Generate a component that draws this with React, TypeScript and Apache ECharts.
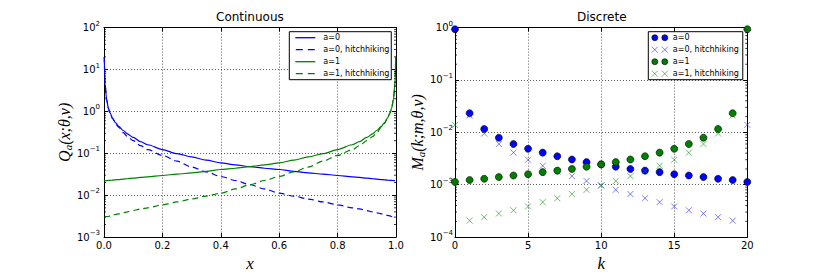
import React, { useEffect, useRef } from 'react';
import * as echarts from 'echarts';

// ---------- Continuous panel data ----------
const contX = [0.001, 0.0034, 0.009, 0.015, 0.02, 0.03, 0.04, 0.05, 0.066, 0.08, 0.1, 0.125, 0.15, 0.2, 0.25, 0.3, 0.35, 0.4, 0.45, 0.5, 0.55, 0.6, 0.65, 0.7, 0.75, 0.8, 0.85, 0.875, 0.9, 0.92, 0.934, 0.95, 0.96, 0.97, 0.98, 0.985, 0.991, 0.9966, 0.999];
const contA0 = [20, 4.6, 1.9, 1.2, 0.93, 0.68, 0.53, 0.44, 0.35, 0.29, 0.24, 0.19, 0.16, 0.123, 0.098, 0.082, 0.069, 0.059, 0.053, 0.048, 0.044, 0.041, 0.037, 0.034, 0.032, 0.0295, 0.0275, 0.0265, 0.0255, 0.0247, 0.0242, 0.0236, 0.0233, 0.0229, 0.0226, 0.0225, 0.0223, 0.0221, 0.022];
const contA0Hitch = [20, 4.6, 1.9, 1.18, 0.91, 0.66, 0.51, 0.42, 0.31, 0.25, 0.2, 0.152, 0.122, 0.089, 0.065, 0.047, 0.036, 0.028, 0.0224, 0.0178, 0.0141, 0.0112, 0.0095, 0.0081, 0.0069, 0.0059, 0.005, 0.0047, 0.0043, 0.004, 0.0038, 0.0036, 0.0035, 0.0033, 0.0032, 0.0031, 0.0031, 0.003, 0.003];
const contA1 = [0.022, 0.0221, 0.0223, 0.0225, 0.0226, 0.0229, 0.0233, 0.0236, 0.0242, 0.0247, 0.0255, 0.0265, 0.0275, 0.0295, 0.032, 0.034, 0.037, 0.041, 0.044, 0.048, 0.053, 0.059, 0.069, 0.082, 0.098, 0.123, 0.16, 0.19, 0.24, 0.29, 0.35, 0.44, 0.53, 0.68, 0.93, 1.2, 1.9, 4.6, 20];
const contA1Hitch = [0.003, 0.003, 0.0031, 0.0031, 0.0032, 0.0033, 0.0035, 0.0036, 0.0038, 0.004, 0.0043, 0.0047, 0.005, 0.0059, 0.0069, 0.0081, 0.0095, 0.0112, 0.0141, 0.0178, 0.0224, 0.028, 0.036, 0.047, 0.065, 0.089, 0.122, 0.152, 0.2, 0.25, 0.31, 0.42, 0.51, 0.66, 0.91, 1.18, 1.9, 4.6, 20];

// ---------- Discrete panel data ----------
const discK = [0, 1, 2, 3, 4, 5, 6, 7, 8, 9, 10, 11, 12, 13, 14, 15, 16, 17, 18, 19, 20];
const discA0 = [0.93, 0.0232, 0.0116, 0.0079, 0.006, 0.00486, 0.0041, 0.0035, 0.00303, 0.0027, 0.00244, 0.00221, 0.002, 0.00186, 0.00174, 0.00159, 0.0015, 0.0014, 0.0013, 0.00123, 0.00113];
const discA0Hitch = [null, 0.021, 0.0095, 0.006, 0.0041, 0.003, 0.0023, 0.00179, 0.00146, 0.00118, 0.00097, 0.0008, 0.000665, 0.000552, 0.000465, 0.000385, 0.000325, 0.000282, 0.00024, 0.000206, 0.0139];
const discA1 = [0.00113, 0.00123, 0.0013, 0.0014, 0.0015, 0.00159, 0.00174, 0.00186, 0.002, 0.00221, 0.00244, 0.0027, 0.00303, 0.0035, 0.0041, 0.00486, 0.006, 0.0079, 0.0116, 0.0232, 0.93];
const discA1Hitch = [0.0139, 0.000206, 0.00024, 0.000282, 0.000325, 0.000385, 0.000465, 0.000552, 0.000665, 0.0008, 0.00097, 0.00118, 0.00146, 0.00179, 0.0023, 0.003, 0.0041, 0.006, 0.0095, 0.021, null];

// ---------- Texts ----------
const titles = ['Continuous', 'Discrete'];
const seriesNames = ['a=0', 'a=0, hitchhiking', 'a=1', 'a=1, hitchhiking'];
const discPrefix = 'D:';

// axis ranges
const contXRange = [0, 1];
const contYRange = [1e-3, 100];
const discXRange = [0, 20];
const discYRange = [1e-4, 1];
const minorMultipliers = [2, 3, 4, 5, 6, 7, 8, 9];

const BLUE = '#0000ff';
const GREEN = '#008000';
const BLUE_X = 'rgba(40,40,255,0.6)';
const GREEN_X = 'rgba(20,140,20,0.6)';

const SANS = 'DejaVu Sans';
const SERIF = 'Liberation Serif';

const supFmt = (v: number) => {
  const e = Math.round(Math.log10(v));
  return `{b|10}{s|${e < 0 ? '\u2212' + -e : e}}`;
};

const minorVals = (lo: number, hi: number) => {
  const out: number[] = [];
  for (let d = Math.round(Math.log10(lo)); d < Math.round(Math.log10(hi)); d++) {
    minorMultipliers.forEach((m) => out.push(m * Math.pow(10, d)));
  }
  return out;
};

const SOLID_ICON = 'path://M0,0H20V1.3H0Z';
const DASH_ICON = 'path://M0,0H7V1.3H0ZM12,0H19V1.3H12Z';
const CIRCLES_ICON = 'path://M0,3A3,3,0,1,1,6,3A3,3,0,1,1,0,3ZM10,3A3,3,0,1,1,16,3A3,3,0,1,1,10,3Z';
const CROSSES_ICON = 'path://M0,0L6,6M6,0L0,6M10,0L16,6M16,0L10,6';
const CROSS_SYMBOL = 'path://M0,0L10,10M10,0L0,10';

export default function App() {
  const ref = useRef<HTMLDivElement>(null);
  useEffect(() => {
    if (!ref.current) return;
    const chart = echarts.init(ref.current, undefined, { renderer: 'svg' });

    const grids = [
      { left: 104, top: 27.6, width: 292, height: 214.7 },
      { left: 455, top: 27.6, width: 292.3, height: 214.7 },
    ];

    const tickStyle = { inside: true, length: 4, lineStyle: { color: '#000', width: 1 } };
    const lineAxis = { show: true, onZero: false, lineStyle: { color: '#000', width: 1 } };
    const gridLine = { show: true, lineStyle: { color: '#333', width: 0.8, type: [1, 2] } };
    const labelRich = {
      b: { fontFamily: SANS, fontSize: 10, color: '#000' },
      s: { fontFamily: SANS, fontSize: 7, color: '#000', padding: [0, 0, 8, 0] },
    };
    const nameRich = {
      i: { fontFamily: SERIF, fontStyle: 'italic', fontSize: 16, color: '#000' },
      s: { fontFamily: SERIF, fontStyle: 'italic', fontSize: 11, color: '#000', padding: [7, 0, 0, 0] },
    };

    const xAxes: any[] = [];
    const yAxes: any[] = [];
    [
      { gi: 0, xr: contXRange, yr: contYRange, interval: 0.2, fmt: (v: number) => v.toFixed(1), xname: 'x', yname: '{i|Q}{s|a}{i|(x;θ,ν)}', yGap: 24, ylm: 4 },
      { gi: 1, xr: discXRange, yr: discYRange, interval: 5, fmt: (v: number) => String(v), xname: 'k', yname: '{i|M}{s|a}{i|(k;m,θ,ν)}', yGap: 28, ylm: 2 },
    ].forEach((p) => {
      xAxes.push({
        gridIndex: p.gi, type: 'value', position: 'bottom', min: p.xr[0], max: p.xr[1], interval: p.interval,
        axisLine: lineAxis, axisTick: tickStyle, splitLine: gridLine,
        axisLabel: { formatter: p.fmt, color: '#000', fontFamily: SANS, fontSize: 10, margin: 3 },
        name: p.xname, nameLocation: 'middle', nameGap: 13,
        nameTextStyle: { fontFamily: SERIF, fontStyle: 'italic', fontSize: 17, color: '#000' },
      });
      xAxes.push({
        gridIndex: p.gi, type: 'value', position: 'top', min: p.xr[0], max: p.xr[1], interval: p.interval,
        axisLine: lineAxis, axisTick: tickStyle, splitLine: { show: false }, axisLabel: { show: false },
      });
      yAxes.push({
        gridIndex: p.gi, type: 'log', logBase: 10, position: 'left', min: p.yr[0], max: p.yr[1],
        axisLine: lineAxis, axisTick: tickStyle, splitLine: gridLine,
        axisLabel: { formatter: supFmt, rich: labelRich, margin: p.ylm },
        name: p.yname, nameLocation: 'middle', nameGap: p.yGap, nameRotate: 90,
        nameTextStyle: { rich: nameRich },
      });
      yAxes.push({
        gridIndex: p.gi, type: 'log', logBase: 10, position: 'right', min: p.yr[0], max: p.yr[1],
        axisLine: lineAxis, axisTick: tickStyle, splitLine: { show: false }, axisLabel: { show: false },
      });
    });

    const lineSeries = (name: string, ys: number[], color: string, dashed: boolean) => ({
      name, type: 'line', xAxisIndex: 0, yAxisIndex: 0, symbol: 'none', showSymbol: false, smooth: 0.3, smoothMonotone: 'x',
      clip: true, z: 3,
      lineStyle: { color, width: 1.2, type: dashed ? [6, 4] : 'solid' },
      itemStyle: { color },
      data: contX.map((x, i) => [x, ys[i]]),
    });

    const toPairs = (vals: (number | null)[]) =>
      discK.map((k, i) => [k, vals[i]]).filter((d) => d[1] !== null);

    const circleSeries = (name: string, vals: (number | null)[], color: string) => ({
      name: discPrefix + name, type: 'scatter', xAxisIndex: 2, yAxisIndex: 2, symbol: 'circle', symbolSize: 7, z: 3,
      itemStyle: { color, borderColor: '#000', borderWidth: 0.6, opacity: 1 },
      data: toPairs(vals),
    });
    const crossSeries = (name: string, vals: (number | null)[], color: string) => ({
      name: discPrefix + name, type: 'scatter', xAxisIndex: 2, yAxisIndex: 2, symbol: CROSS_SYMBOL, symbolSize: 6, z: 3,
      itemStyle: { color: 'rgba(0,0,0,0)', borderColor: color, borderWidth: 1, opacity: 1 },
      data: toPairs(vals),
    });

    const minorSeries = (xi: number, yi: number, xr: number[], yr: number[]) => ({
      type: 'custom', xAxisIndex: xi, yAxisIndex: yi, silent: true, z: 4,
      data: minorVals(yr[0], yr[1]).map((v) => [xr[0], v]),
      renderItem: (params: any, api: any) => {
        const v = api.value(1);
        const p = api.coord([xr[0], v]);
        const q = api.coord([xr[1], v]);
        return {
          type: 'group',
          children: [
            { type: 'line', shape: { x1: p[0], y1: p[1], x2: p[0] + 2, y2: p[1] }, style: { stroke: '#000', lineWidth: 0.8 } },
            { type: 'line', shape: { x1: q[0] - 2, y1: q[1], x2: q[0], y2: q[1] }, style: { stroke: '#000', lineWidth: 0.8 } },
          ],
        };
      },
    });

    const legendCommon = {
      orient: 'vertical', top: 31.7, itemGap: 0, borderColor: '#000', borderWidth: 1, borderRadius: 0,
      backgroundColor: '#fff', selectedMode: false, z: 20,
    };

    chart.setOption({
      animation: false,
      title: [
        { text: titles[0], left: 216, top: 11, padding: 0, textStyle: { fontFamily: SANS, fontSize: 12, fontWeight: 'normal', color: '#000' } },
        { text: titles[1], left: 577, top: 11, padding: 0, textStyle: { fontFamily: SANS, fontSize: 12, fontWeight: 'normal', color: '#000' } },
      ],
      grid: grids,
      xAxis: xAxes,
      yAxis: yAxes,
      legend: [
        {
          ...legendCommon, left: 289.3, padding: [0, 2, 0, 6], itemWidth: 20, itemHeight: 1.3,
          data: [
            { name: seriesNames[0], icon: SOLID_ICON, itemStyle: { color: BLUE, borderWidth: 0 } },
            { name: seriesNames[1], icon: DASH_ICON, itemStyle: { color: BLUE, borderWidth: 0 } },
            { name: seriesNames[2], icon: SOLID_ICON, itemStyle: { color: GREEN, borderWidth: 0 } },
            { name: seriesNames[3], icon: DASH_ICON, itemStyle: { color: GREEN, borderWidth: 0 } },
          ],
          textStyle: { fontFamily: SANS, fontSize: 8, color: '#000', lineHeight: 12, padding: [0, 0, 0, 3] },
        },
        {
          ...legendCommon, left: 648.3, padding: [0, 4, 0, 3], itemWidth: 16, itemHeight: 6,
          formatter: (n: string) => n.slice(discPrefix.length),
          data: [
            { name: discPrefix + seriesNames[0], icon: CIRCLES_ICON, itemStyle: { color: BLUE, borderColor: '#000', borderWidth: 0.6 } },
            { name: discPrefix + seriesNames[1], icon: CROSSES_ICON, itemStyle: { color: 'rgba(0,0,0,0)', borderColor: BLUE_X, borderWidth: 1 } },
            { name: discPrefix + seriesNames[2], icon: CIRCLES_ICON, itemStyle: { color: GREEN, borderColor: '#000', borderWidth: 0.6 } },
            { name: discPrefix + seriesNames[3], icon: CROSSES_ICON, itemStyle: { color: 'rgba(0,0,0,0)', borderColor: GREEN_X, borderWidth: 1 } },
          ],
          textStyle: { fontFamily: SANS, fontSize: 8, color: '#000', lineHeight: 12 },
        },
      ],
      series: [
        lineSeries(seriesNames[0], contA0, BLUE, false),
        lineSeries(seriesNames[1], contA0Hitch, BLUE, true),
        lineSeries(seriesNames[2], contA1, GREEN, false),
        lineSeries(seriesNames[3], contA1Hitch, GREEN, true),
        circleSeries(seriesNames[0], discA0, BLUE),
        crossSeries(seriesNames[1], discA0Hitch, BLUE_X),
        circleSeries(seriesNames[2], discA1, GREEN),
        crossSeries(seriesNames[3], discA1Hitch, GREEN_X),
        minorSeries(0, 0, contXRange, contYRange),
        minorSeries(2, 2, discXRange, discYRange),
      ],
    });
    return () => chart.dispose();
  }, []);
  return <div ref={ref} style={{ position: 'fixed', left: 0, top: 0, width: 830, height: 277, background: '#fff' }} />;
}
